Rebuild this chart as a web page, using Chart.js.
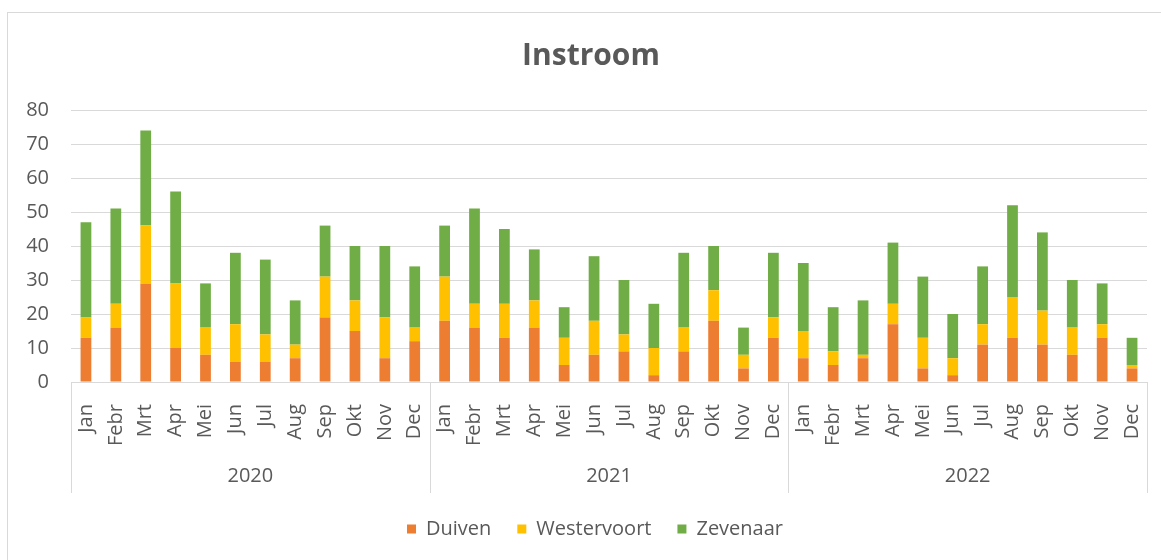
<!DOCTYPE html>
<html lang="nl">
<head>
  <meta charset="UTF-8">
  <title>Instroom</title>
  <script src="https://cdn.jsdelivr.net/npm/chart.js"></script>
  <style>
    body {
      margin: 0;
      background: #ffffff;
      font-family: 'Open Sans', sans-serif;
    }

    .kader {
      position: relative;
      width: 1161px;
      height: 560px;
    }

    /* lichte rand rond de grafiek, zoals in Excel */
    .rand {
      position: absolute;
      left: 7px;
      top: 12px;
      right: 0;
      bottom: 0;
      border-left: 1px solid #d9d9d9;
      border-top: 1px solid #d9d9d9;
      pointer-events: none;
    }

    canvas {
      position: absolute;
      left: 0;
      top: 0;
    }
  </style>
</head>
<body>

  <div class="kader">
    <div class="rand"></div>
    <canvas id="grafiekInstroom" width="1161" height="560"></canvas>
  </div>

  <script>
    const maanden = ['Jan', 'Febr', 'Mrt', 'Apr', 'Mei', 'Jun', 'Jul', 'Aug', 'Sep', 'Okt', 'Nov', 'Dec'];
    const jaren = ['2020', '2021', '2022'];

    // per maand, 2020 t/m 2022
    const duiven = [
      13, 16, 29, 10, 8, 6, 6, 7, 19, 15, 7, 12,
      18, 16, 13, 16, 5, 8, 9, 2, 9, 18, 4, 13,
      7, 5, 7, 17, 4, 2, 11, 13, 11, 8, 13, 4
    ];
    const westervoort = [
      6, 7, 17, 19, 8, 11, 8, 4, 12, 9, 12, 4,
      13, 7, 10, 8, 8, 10, 5, 8, 7, 9, 4, 6,
      8, 4, 1, 6, 9, 5, 6, 12, 10, 8, 4, 1
    ];
    const zevenaar = [
      28, 28, 28, 27, 13, 21, 22, 13, 15, 16, 21, 18,
      15, 28, 22, 15, 9, 19, 16, 13, 22, 13, 8, 19,
      20, 13, 16, 18, 18, 13, 17, 27, 23, 14, 12, 8
    ];

    const labels = [];
    jaren.forEach(() => maanden.forEach(m => labels.push(m)));

    const tekstKleur = '#595959';
    const lijnKleur = '#d9d9d9';
    const lettertype = "'Open Sans', sans-serif";

    // tweede asniveau: jaren met scheidingslijnen
    const jaarAs = {
      id: 'jaarAs',
      afterLayout(chart) {
        // titel en legenda staan in het origineel iets rechts van het midden
        if (chart.titleBlock) { chart.titleBlock.left += 14; chart.titleBlock.right += 14; }
        if (chart.legend) { chart.legend.left += 18; chart.legend.right += 18; }
      },
      afterDraw(chart) {
        const { ctx, chartArea, scales: { x } } = chart;
        const half = (x.getPixelForTick(1) - x.getPixelForTick(0)) / 2;
        const boven = chartArea.bottom;
        const onder = chartArea.bottom + 111;
        ctx.save();
        ctx.strokeStyle = lijnKleur;
        ctx.lineWidth = 1;
        for (let j = 0; j <= jaren.length; j++) {
          const idx = Math.min(j * maanden.length, labels.length - 1);
          const px = j < jaren.length ? x.getPixelForTick(idx) - half : x.getPixelForTick(idx) + half;
          const xx = Math.round(px) + 0.5;
          ctx.beginPath();
          ctx.moveTo(xx, boven);
          ctx.lineTo(xx, onder);
          ctx.stroke();
        }
        ctx.fillStyle = tekstKleur;
        ctx.font = "20px " + lettertype;
        ctx.textAlign = 'center';
        ctx.textBaseline = 'middle';
        jaren.forEach((jaar, j) => {
          const links = x.getPixelForTick(j * maanden.length) - half;
          const rechts = x.getPixelForTick(j * maanden.length + maanden.length - 1) + half;
          ctx.fillText(jaar, (links + rechts) / 2, 476);
        });
        ctx.restore();
      }
    };

    const ctx = document.getElementById('grafiekInstroom').getContext('2d');
    new Chart(ctx, {
      type: 'bar',
      data: {
        labels: labels,
        datasets: [
          { label: 'Duiven', data: duiven, backgroundColor: '#ED7D31' },
          { label: 'Westervoort', data: westervoort, backgroundColor: '#FFC000' },
          { label: 'Zevenaar', data: zevenaar, backgroundColor: '#70AD47' }
        ]
      },
      options: {
        responsive: false,
        animation: false,
        layout: {
          padding: { top: 28, left: 7, right: 14, bottom: 11 }
        },
        datasets: {
          bar: { barPercentage: 0.36, categoryPercentage: 1 }
        },
        scales: {
          x: {
            stacked: true,
            grid: { display: false },
            border: { display: true, color: lijnKleur },
            ticks: {
              autoSkip: false,
              minRotation: 90,
              maxRotation: 90,
              padding: 14,
              color: tekstKleur,
              font: { family: lettertype, size: 20 }
            },
            afterFit: s => {
              s.height = 111;
              s.paddingLeft = 0;
              s.paddingRight = 0;
            }
          },
          y: {
            stacked: true,
            min: 0,
            max: 80,
            ticks: {
              stepSize: 10,
              padding: 22,
              color: tekstKleur,
              font: { family: lettertype, size: 20 }
            },
            grid: { color: lijnKleur, drawTicks: false },
            border: { display: false },
            afterFit: s => { s.width = 64; }
          }
        },
        plugins: {
          title: {
            display: true,
            text: 'Instroom',
            color: tekstKleur,
            font: { family: lettertype, size: 30, weight: 'bold' },
            padding: { top: 10, bottom: 36 }
          },
          legend: {
            position: 'bottom',
            labels: {
              boxWidth: 9,
              boxHeight: 9,
              padding: 26,
              color: tekstKleur,
              font: { family: lettertype, size: 20 }
            }
          },
          tooltip: { enabled: false }
        }
      },
      plugins: [jaarAs]
    });
  </script>

</body>
</html>
